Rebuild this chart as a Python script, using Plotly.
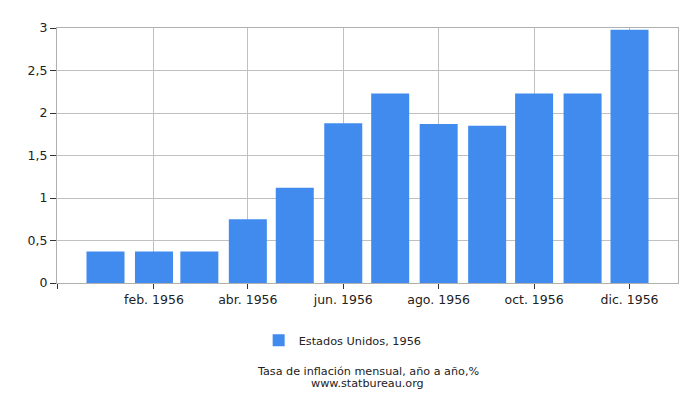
import plotly.graph_objects as go

# monthly year-on-year inflation, United States 1956
months = ['1956-01-01', '1956-02-01', '1956-03-01', '1956-04-01', '1956-05-01', '1956-06-01',
          '1956-07-01', '1956-08-01', '1956-09-01', '1956-10-01', '1956-11-01', '1956-12-01']
values = [0.37, 0.37, 0.37, 0.75, 1.12, 1.88, 2.23, 1.87, 1.85, 2.23, 2.23, 2.98]
series_name = 'Estados Unidos, 1956'

tick_dates = ['1955-12-01', '1956-02-01', '1956-04-01', '1956-06-01',
              '1956-08-01', '1956-10-01', '1956-12-01']
tick_labels = ['', 'feb. 1956', 'abr. 1956', 'jun. 1956', 'ago. 1956', 'oct. 1956', 'dic. 1956']

y_ticks = [0, 0.5, 1, 1.5, 2, 2.5, 3]

DAY_MS = 86400000

fig = go.Figure()
fig.add_trace(go.Bar(
    x=months, y=values, name=series_name,
    marker=dict(color='#418bee', line=dict(width=0)),
    width=24.3 * DAY_MS,
    showlegend=True
))

# the page body adds an 8px offset, so margins are trimmed to compensate
fig.update_layout(
    width=700, height=400,
    margin=dict(l=49, r=30, t=14, b=125),
    paper_bgcolor='white', plot_bgcolor='white',
    separators=',.',
    font=dict(family='DejaVu Sans', size=12, color='#222222'),
    showlegend=True,
    legend=dict(orientation='h', x=0.46, xanchor='center', y=-0.168, yanchor='top',
                font=dict(size=11.3), itemwidth=30),
    xaxis=dict(type='date', range=['1955-12-01', '1957-01-01'],
               tickvals=tick_dates, ticktext=tick_labels,
               showgrid=True, gridcolor='#c0c0c0', gridwidth=1,
               ticks='outside', ticklen=5, tickcolor='#333333',
               showline=True, linecolor='#b0b0b0', mirror=True,
               tickfont=dict(size=12.5)),
    yaxis=dict(range=[0, 3], tickvals=y_ticks,
               showgrid=True, gridcolor='#c0c0c0', gridwidth=1,
               ticks='outside', ticklen=6, tickcolor='#333333',
               showline=True, linecolor='#b0b0b0', mirror=True,
               zeroline=False, tickfont=dict(size=12.5)),
    annotations=[
        dict(text='Tasa de inflación mensual, año a año,%', x=0.5, y=-0.3165,
             xref='paper', yref='paper', showarrow=False, xanchor='center', yanchor='top',
             borderpad=0, font=dict(size=11.2)),
        dict(text='www.statbureau.org', x=0.5, y=-0.366,
             xref='paper', yref='paper', showarrow=False, xanchor='center', yanchor='top',
             borderpad=0, font=dict(size=11.2)),
    ]
)

fig.write_html('out.html')
